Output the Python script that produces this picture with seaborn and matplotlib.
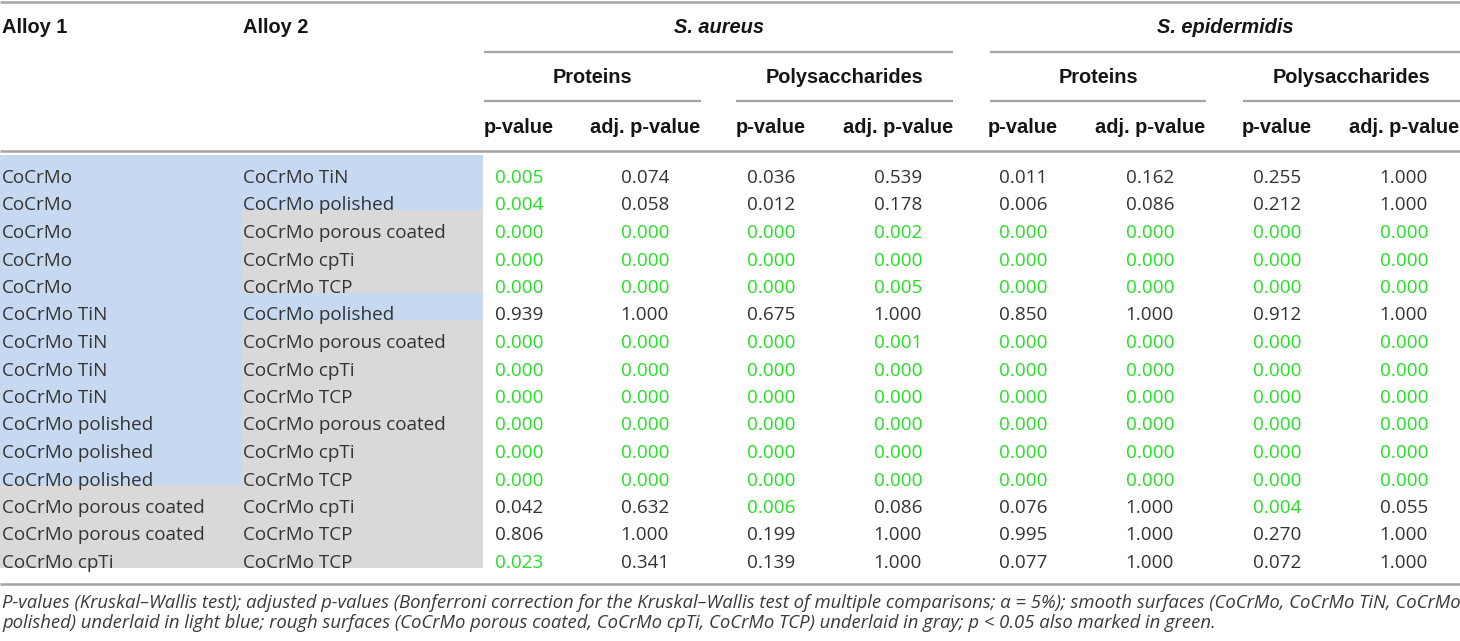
import numpy as np
import pandas as pd
import seaborn as sns
import matplotlib.pyplot as plt
from matplotlib.colors import ListedColormap

# Table content
alloy_1 = ["CoCrMo", "CoCrMo", "CoCrMo", "CoCrMo", "CoCrMo",
           "CoCrMo TiN", "CoCrMo TiN", "CoCrMo TiN", "CoCrMo TiN",
           "CoCrMo polished", "CoCrMo polished", "CoCrMo polished",
           "CoCrMo porous coated", "CoCrMo porous coated", "CoCrMo cpTi"]
alloy_2 = ["CoCrMo TiN", "CoCrMo polished", "CoCrMo porous coated", "CoCrMo cpTi", "CoCrMo TCP",
           "CoCrMo polished", "CoCrMo porous coated", "CoCrMo cpTi", "CoCrMo TCP",
           "CoCrMo porous coated", "CoCrMo cpTi", "CoCrMo TCP",
           "CoCrMo cpTi", "CoCrMo TCP", "CoCrMo TCP"]
smooth_surfaces = ["CoCrMo", "CoCrMo TiN", "CoCrMo polished"]

species = ["S. aureus", "S. epidermidis"]
substances = ["Proteins", "Polysaccharides"]
value_labels = ["p-value", "adj. p-value"]

aureus_prot_p = [0.005, 0.004, 0.000, 0.000, 0.000, 0.939, 0.000, 0.000, 0.000, 0.000, 0.000, 0.000, 0.042, 0.806, 0.023]
aureus_prot_adj = [0.074, 0.058, 0.000, 0.000, 0.000, 1.000, 0.000, 0.000, 0.000, 0.000, 0.000, 0.000, 0.632, 1.000, 0.341]
aureus_poly_p = [0.036, 0.012, 0.000, 0.000, 0.000, 0.675, 0.000, 0.000, 0.000, 0.000, 0.000, 0.000, 0.006, 0.199, 0.139]
aureus_poly_adj = [0.539, 0.178, 0.002, 0.000, 0.005, 1.000, 0.001, 0.000, 0.000, 0.000, 0.000, 0.000, 0.086, 1.000, 1.000]
epid_prot_p = [0.011, 0.006, 0.000, 0.000, 0.000, 0.850, 0.000, 0.000, 0.000, 0.000, 0.000, 0.000, 0.076, 0.995, 0.077]
epid_prot_adj = [0.162, 0.086, 0.000, 0.000, 0.000, 1.000, 0.000, 0.000, 0.000, 0.000, 0.000, 0.000, 1.000, 1.000, 1.000]
epid_poly_p = [0.255, 0.212, 0.000, 0.000, 0.000, 0.912, 0.000, 0.000, 0.000, 0.000, 0.000, 0.000, 0.004, 0.270, 0.072]
epid_poly_adj = [1.000, 1.000, 0.000, 0.000, 0.000, 1.000, 0.000, 0.000, 0.000, 0.000, 0.000, 0.000, 0.055, 1.000, 1.000]

# cells printed in green in the source table
marked_green = ["10000000", "10000000", "11111111", "11111111", "11111111",
                "00000000", "11111111", "11111111", "11111111",
                "11111111", "11111111", "11111111",
                "00100010", "00000000", "10000000"]

footnote = ["P-values (Kruskal\u2013Wallis test); adjusted p-values (Bonferroni correction for the Kruskal\u2013Wallis test "
            "of multiple comparisons; \u03b1 = 5%); smooth surfaces (CoCrMo, CoCrMo TiN, CoCrMo",
            "polished) underlaid in light blue; rough surfaces (CoCrMo porous coated, CoCrMo cpTi, CoCrMo TCP) "
            "underlaid in gray; p < 0.05 also marked in green."]

values = pd.DataFrame({
    "aureus_prot_p": aureus_prot_p, "aureus_prot_adj": aureus_prot_adj,
    "aureus_poly_p": aureus_poly_p, "aureus_poly_adj": aureus_poly_adj,
    "epid_prot_p": epid_prot_p, "epid_prot_adj": epid_prot_adj,
    "epid_poly_p": epid_poly_p, "epid_poly_adj": epid_poly_adj,
})
surface = pd.DataFrame({
    "Alloy 1": [0 if a in smooth_surfaces else 1 for a in alloy_1],
    "Alloy 2": [0 if a in smooth_surfaces else 1 for a in alloy_2],
})

# layout (pixels)
W, H = 1460, 641
blue, gray, green = "#c6d9f0", "#d9d9d9", "#22e022"
rule = "#a3a3a3"
body_font = ["Open Sans", "DejaVu Sans"]
head_font = ["Liberation Sans", "DejaVu Sans"]
col_centers = [519, 645, 771, 898, 1023, 1150, 1277, 1404]
alloy_x = [2, 243]
top, row_h = 155, 27.5
n = len(alloy_1)

fig = plt.figure(figsize=(W / 100, H / 100), dpi=100)

# shading of the alloy columns via a heatmap
hax = fig.add_axes([0, (H - top - n * row_h) / H, 483 / W, n * row_h / H])
sns.heatmap(surface, ax=hax, cmap=ListedColormap([blue, gray]), vmin=0, vmax=1,
            cbar=False, xticklabels=False, yticklabels=False, linewidths=0)
hax.axis("off")

ax = fig.add_axes([0, 0, 1, 1], facecolor="none")
ax.set_xlim(0, W)
ax.set_ylim(H, 0)
ax.axis("off")

# rules
ax.hlines([1.5, 151, 584], 0, W, color=rule, lw=1.8)
ax.hlines([52, 52], [484, 990], [953, W], color=rule, lw=1.6)
ax.hlines([101] * 4, [484, 736, 990, 1243], [701, 953, 1206, W], color=rule, lw=1.6)

# header
hd = dict(family=head_font, fontsize=14.4, fontweight="bold", color="#151515", va="baseline")
ax.text(alloy_x[0], 33, "Alloy 1", ha="left", **hd)
ax.text(alloy_x[1], 33, "Alloy 2", ha="left", **hd)
ax.text((484 + 953) / 2, 33, species[0], ha="center", style="italic", **hd)
ax.text((990 + W) / 2, 33, species[1], ha="center", style="italic", **hd)
for x0, x1, lab in zip([484, 736, 990, 1243], [701, 953, 1206, W], substances * 2):
    ax.text((x0 + x1) / 2, 83, lab, ha="center", **hd)
for x, lab in zip(col_centers, value_labels * 4):
    ax.text(x, 133, lab, ha="center", **hd)

# body
bd = dict(family=body_font, fontsize=13.6, va="baseline")
for i in range(n):
    y = top + (i + 1) * row_h + 0.5
    ax.text(alloy_x[0], y, alloy_1[i], ha="left", color="#333333", **bd)
    ax.text(alloy_x[1], y, alloy_2[i], ha="left", color="#333333", **bd)
    for j, col in enumerate(values.columns):
        c = green if marked_green[i][j] == "1" else "#333333"
        ax.text(col_centers[j], y, f"{values[col][i]:.3f}", ha="center", color=c, **bd)

# footnote
for k, line in enumerate(footnote):
    ax.text(2, 608 + 20 * k, line, ha="left", va="baseline", family=body_font,
            fontsize=13.3, style="italic", color="#3a3a3a")

fig.savefig("out.png", dpi=100)
